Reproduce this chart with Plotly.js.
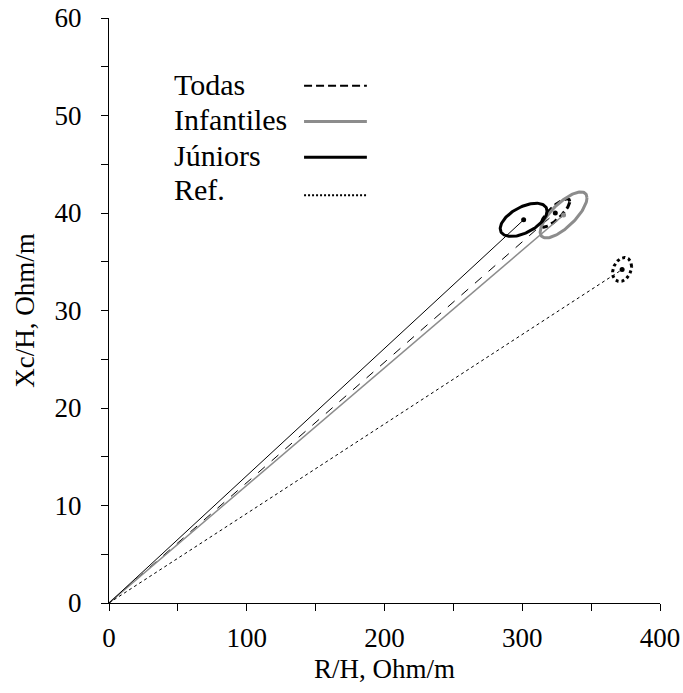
<!DOCTYPE html>
<html>
<head>
<meta charset="utf-8">
<script src="https://cdn.plot.ly/plotly-3.0.1.min.js"></script>
<style>html,body{margin:0;padding:0;background:#fff;}#chart{width:683px;height:693px;}</style>
</head>
<body>
<div id="chart"></div>
<script>
// Group names (legend order)
const groups = ['Todas', 'Infantiles', 'Júniors', 'Ref.'];
// Mean vector end points (R/H, Xc/H), Ohm/m
const meanR = [324, 330, 301, 372.5];
const meanXc = [40.0, 39.8, 39.3, 34.2];
// Confidence ellipse half-extent along R/H and Xc/H, and phase (deg) giving tilt
const ellHalfR = [10.5, 17.0, 17.0, 6.9];
const ellHalfXc = [1.45, 2.36, 1.7, 1.23];
const ellPhaseDeg = [35, 42, 58, 75];
// Axis ticks
const xTicks = [0, 100, 200, 300, 400];
const yTicks = [0, 10, 20, 30, 40, 50, 60];

const colors = ['#000000', '#8c8c8c', '#000000', '#000000'];
const dashes = ['dash', 'solid', 'solid', 'dot'];
const legendDash = ['8px,4px', 'solid', 'solid', '2px,2px'];
const legendWidth = [2, 3, 3, 2];
const vecWidth = [1, 1.5, 1, 1];

const traces = [];
groups.forEach((g, i) => {
  // vector from origin to mean
  traces.push({
    type: 'scatter', mode: 'lines', x: [0, meanR[i]], y: [0, meanXc[i]],
    line: {color: colors[i], width: vecWidth[i], dash: dashes[i]},
    showlegend: false, hoverinfo: 'skip'
  });
  // mean point
  traces.push({
    type: 'scatter', mode: 'markers', x: [meanR[i]], y: [meanXc[i]],
    marker: {color: colors[i], size: 5}, showlegend: false, hoverinfo: 'skip'
  });
  // ellipse
  const ex = [], ey = [];
  const ph = ellPhaseDeg[i] * Math.PI / 180;
  for (let k = 0; k <= 120; k++) {
    const t = 2 * Math.PI * k / 120;
    ex.push(meanR[i] + ellHalfR[i] * Math.cos(t));
    ey.push(meanXc[i] + ellHalfXc[i] * Math.cos(t - ph));
  }
  traces.push({
    type: 'scatter', mode: 'lines', x: ex, y: ey,
    line: {color: colors[i], width: 3, dash: i === 0 ? '7px,4px' : dashes[i]},
    showlegend: false, hoverinfo: 'skip'
  });
});

// manual legend (text left, line sample right)
const annotations = [];
const shapes = [];
const legY = [0.887, 0.826, 0.765, 0.706];
groups.forEach((g, i) => {
  annotations.push({
    xref: 'paper', yref: 'paper', x: 0.115, y: legY[i], xanchor: 'left', yanchor: 'middle',
    text: g, showarrow: false, font: {family: 'Liberation Serif, Times New Roman, serif', size: 30, color: '#000'}
  });
  const ly = legY[i] - 0.003 - (i === 3 ? 0.006 : 0);
  shapes.push({
    type: 'line', xref: 'paper', yref: 'paper', x0: 0.354, x1: 0.468, y0: ly, y1: ly,
    line: {color: colors[i], width: legendWidth[i], dash: legendDash[i]}
  });
});

const font = {family: 'Liberation Serif, Times New Roman, serif', size: 27, color: '#000'};
const layout = {
  width: 683, height: 693,
  margin: {l: 109, r: 23, t: 18, b: 90},
  paper_bgcolor: '#fff', plot_bgcolor: '#fff',
  font: font,
  showlegend: false,
  xaxis: {
    range: [0, 400], tickvals: xTicks, ticktext: xTicks.map(String),
    showgrid: false, zeroline: false, showline: true, linecolor: '#000', linewidth: 1,
    ticks: 'outside', ticklen: 7, tickcolor: '#000', tickwidth: 1,
    minor: {dtick: 50, ticks: 'outside', ticklen: 7, tickcolor: '#000', tickwidth: 1, showgrid: false},
    tickfont: font, ticklabelstandoff: 4,
    title: {text: 'R/H, Ohm/m', font: font, standoff: 6}
  },
  yaxis: {
    range: [0, 60], tickvals: yTicks, ticktext: yTicks.map(String),
    showgrid: false, zeroline: false, showline: true, linecolor: '#000', linewidth: 1,
    ticks: 'outside', ticklen: 7, tickcolor: '#000', tickwidth: 1,
    minor: {dtick: 5, ticks: 'outside', ticklen: 7, tickcolor: '#000', tickwidth: 1, showgrid: false},
    tickfont: font, ticklabelstandoff: 14,
    title: {text: 'Xc/H, Ohm/m', font: font, standoff: 12}
  },
  annotations: annotations,
  shapes: shapes
};

Plotly.newPlot('chart', traces, layout, {displayModeBar: false, staticPlot: true});
</script>
</body>
</html>
